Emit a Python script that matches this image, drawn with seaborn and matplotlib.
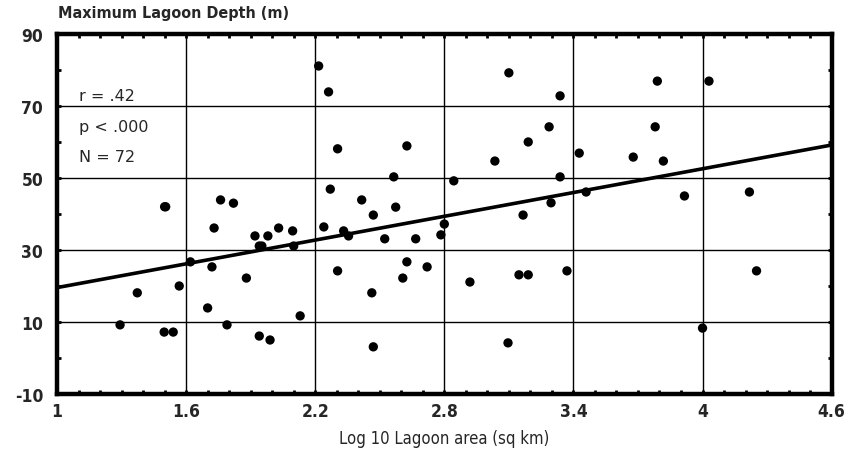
import numpy as np
import pandas as pd
import matplotlib
matplotlib.use("Agg")
import matplotlib.pyplot as plt
import seaborn as sns
from matplotlib.ticker import MultipleLocator

log_area = [1.293, 1.373, 1.50, 1.505, 1.498, 1.54, 1.568, 1.62, 1.70, 1.72,
            1.73, 1.76, 1.79, 1.82, 1.88, 1.92, 1.94, 1.952, 1.94, 1.98,
            1.99, 2.03, 2.095, 2.10, 2.13, 2.216, 2.262, 2.24, 2.27, 2.304,
            2.304, 2.332, 2.355, 2.416, 2.47, 2.463, 2.47, 2.523, 2.565, 2.574,
            2.607, 2.626, 2.626, 2.667, 2.72, 2.784, 2.80, 2.844, 2.919, 3.035,
            3.096, 3.10, 3.147, 3.166, 3.19, 3.19, 3.287, 3.296, 3.338, 3.338,
            3.37, 3.427, 3.459, 3.678, 3.78, 3.79, 3.818, 3.916, 4.0, 4.03,
            4.218, 4.251]
max_depth = [9.2, 18.1, 42.0, 42.0, 7.2, 7.2, 20.0, 26.7, 13.9, 25.3,
             36.1, 43.9, 9.2, 43.0, 22.2, 33.9, 31.1, 31.1, 6.1, 33.9,
             5.0, 36.1, 35.3, 31.1, 11.7, 81.1, 73.9, 36.4, 46.9, 58.1,
             24.2, 35.3, 33.9, 43.9, 39.7, 18.1, 3.1, 33.1, 50.3, 41.9,
             22.2, 58.9, 26.7, 33.1, 25.3, 34.2, 37.2, 49.2, 21.1, 54.7,
             4.2, 79.2, 23.1, 39.7, 60.0, 23.1, 64.2, 43.1, 72.8, 50.3,
             24.2, 56.9, 46.1, 55.8, 64.2, 76.9, 54.7, 45.0, 8.3, 76.9,
             46.1, 24.2]
fit_intercept = 8.55
fit_slope = 11.0
stats_lines = ["r = .42", "p < .000", "N = 72"]
x_ticks = [1, 1.6, 2.2, 2.8, 3.4, 4, 4.6]
x_tick_labels = ["1", "1.6", "2.2", "2.8", "3.4", "4", "4.6"]
y_ticks = [-10, 10, 30, 50, 70, 90]
y_tick_labels = ["-10", "10", "30", "50", "70", "90"]

df = pd.DataFrame({"x": log_area, "y": max_depth})

sns.set_style("white")
plt.rcParams['font.family'] = ['DejaVu Sans']
plt.rcParams['axes.unicode_minus'] = False

fig = plt.figure(figsize=(8.46, 4.64), dpi=100)
ax = fig.add_axes([0.0674, 0.1487, 0.9156, 0.776])

sns.scatterplot(data=df, x="x", y="y", ax=ax, color="black", s=45,
                edgecolor="none", zorder=3, legend=False)

xl = np.array([1.0, 4.6])
line_y = fit_intercept + fit_slope * xl
ax.plot(xl, line_y, color="black", lw=2.6, zorder=4, solid_capstyle="butt")

ax.set_xlim(1, 4.6)
ax.set_ylim(-10, 90)
ax.set_xticks(x_ticks)
ax.set_xticklabels(x_tick_labels)
ax.set_yticks(y_ticks)
ax.set_yticklabels(y_tick_labels)
ax.xaxis.set_minor_locator(MultipleLocator(0.1))
ax.yaxis.set_minor_locator(MultipleLocator(10))
ax.grid(True, which="major", color="black", lw=1.0)
ax.set_axisbelow(True)
for sp in ax.spines.values():
    sp.set_linewidth(3.2)
    sp.set_color("black")
ax.tick_params(which="both", direction="in", length=3, width=2, color="black",
               top=True, right=True, bottom=True, left=True)
ax.tick_params(which="major", labelsize=12.5)
ax.tick_params(axis="x", which="major", pad=6)
ax.tick_params(axis="y", which="major", pad=10)
for lab in ax.get_xticklabels() + ax.get_yticklabels():
    lab.set_fontweight("bold")
    lab.set_fontstretch("condensed")

ax.set_xlabel("Log 10 Lagoon area (sq km)", fontsize=12, labelpad=6,
              fontstretch="condensed")
ax.set_ylabel("")
fig.text(0.068, 0.955, "Maximum Lagoon Depth (m)", fontsize=11.5,
         fontweight="semibold", fontstretch="condensed", ha="left", va="bottom")

for i, t in enumerate(stats_lines):
    ax.text(0.028, 0.828 - i * 0.084, t, transform=ax.transAxes, fontsize=11.5,
            ha="left", va="center")

fig.savefig("out.png", dpi=100, facecolor="white")
